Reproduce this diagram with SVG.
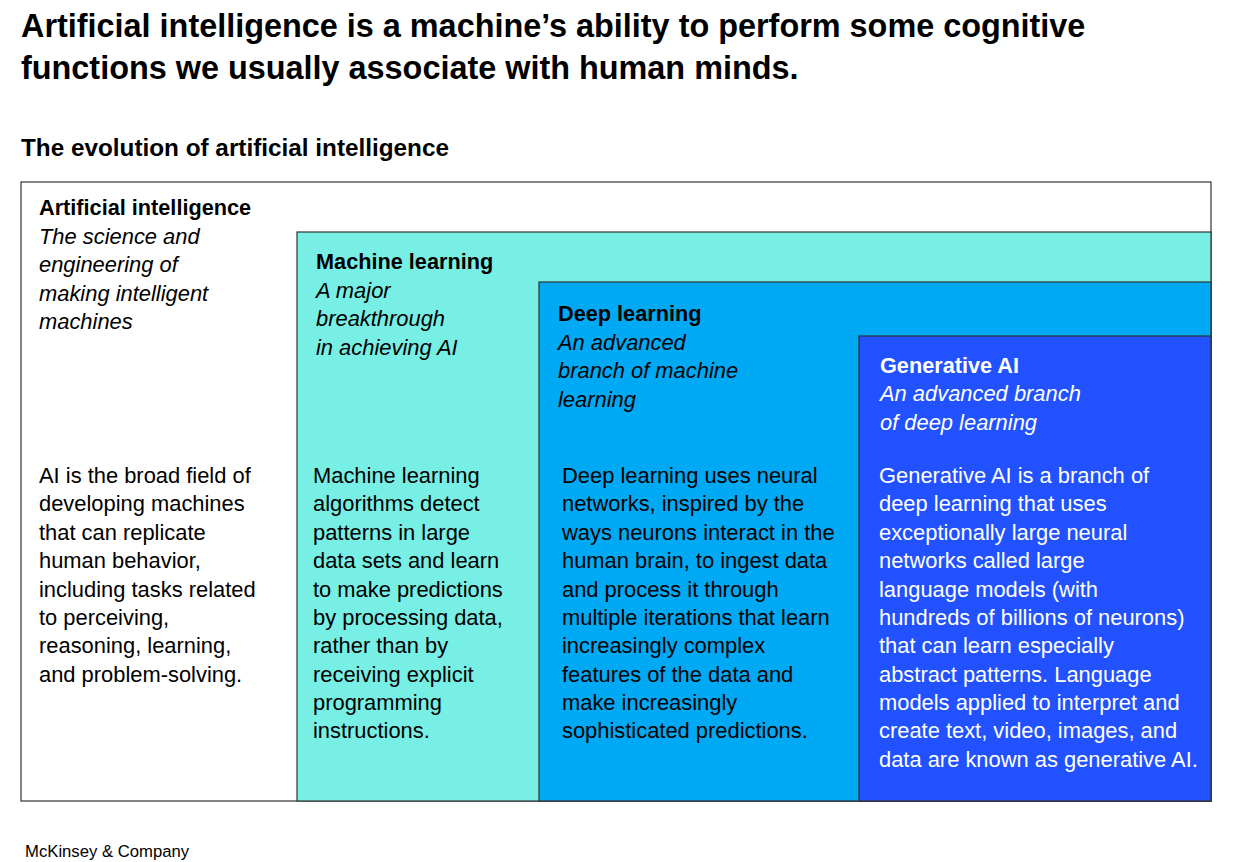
<svg xmlns="http://www.w3.org/2000/svg" width="1234" height="862" viewBox="0 0 1234 862">
<style>
text{font-family:"Liberation Sans",Arial,sans-serif;fill:#000}
.h1{font-size:32.4px;font-weight:bold}
.h2{font-size:24.3px;font-weight:bold}
.t{font-size:21.7px;font-weight:bold}
.i{font-size:21.9px;font-style:italic}
.b{font-size:21.9px}
.w{fill:#fff}
.box{stroke:#333;stroke-width:1.2}
.src{font-size:16.7px}
</style>
<rect width="1234" height="862" fill="#fff"/>
<text class="h1" x="21" y="37">Artificial intelligence is a machine’s ability to perform some cognitive</text>
<text class="h1" x="21" y="79">functions we usually associate with human minds.</text>
<text class="h2" x="21" y="156">The evolution of artificial intelligence</text>
<g id="ai">
<rect class="box" x="21" y="182" width="1190" height="619" fill="#fff"/>
<text class="t" x="39" y="215">Artificial intelligence</text>
<text class="i" x="39" y="244">The science and</text>
<text class="i" x="39" y="272">engineering of</text>
<text class="i" x="39" y="301">making intelligent</text>
<text class="i" x="39" y="329">machines</text>
<text class="b" x="39" y="483">AI is the broad field of</text>
<text class="b" x="39" y="511">developing machines</text>
<text class="b" x="39" y="540">that can replicate</text>
<text class="b" x="39" y="568">human behavior,</text>
<text class="b" x="39" y="597">including tasks related</text>
<text class="b" x="39" y="625">to perceiving,</text>
<text class="b" x="39" y="653">reasoning, learning,</text>
<text class="b" x="39" y="682">and problem-solving.</text>
</g>
<g id="ml">
<rect class="box" x="297" y="232" width="914" height="569" fill="#77EFE5"/>
<text class="t" x="316" y="269">Machine learning</text>
<text class="i" x="316" y="298">A major</text>
<text class="i" x="316" y="326">breakthrough</text>
<text class="i" x="316" y="355">in achieving AI</text>
<text class="b" x="313" y="483">Machine learning</text>
<text class="b" x="313" y="511">algorithms detect</text>
<text class="b" x="313" y="540">patterns in large</text>
<text class="b" x="313" y="568">data sets and learn</text>
<text class="b" x="313" y="597">to make predictions</text>
<text class="b" x="313" y="625">by processing data,</text>
<text class="b" x="313" y="653">rather than by</text>
<text class="b" x="313" y="682">receiving explicit</text>
<text class="b" x="313" y="710">programming</text>
<text class="b" x="313" y="738">instructions.</text>
</g>
<g id="dl">
<rect class="box" x="539" y="282" width="672" height="519" fill="#00A9F4"/>
<text class="t" x="558" y="321">Deep learning</text>
<text class="i" x="558" y="350">An advanced</text>
<text class="i" x="558" y="378">branch of machine</text>
<text class="i" x="558" y="407">learning</text>
<text class="b" x="562" y="483">Deep learning uses neural</text>
<text class="b" x="562" y="511">networks, inspired by the</text>
<text class="b" x="562" y="540">ways neurons interact in the</text>
<text class="b" x="562" y="568">human brain, to ingest data</text>
<text class="b" x="562" y="597">and process it through</text>
<text class="b" x="562" y="625">multiple iterations that learn</text>
<text class="b" x="562" y="653">increasingly complex</text>
<text class="b" x="562" y="682">features of the data and</text>
<text class="b" x="562" y="710">make increasingly</text>
<text class="b" x="562" y="738">sophisticated predictions.</text>
</g>
<g id="genai">
<rect class="box" x="859" y="336" width="352" height="465" fill="#2251FF"/>
<text class="t w" x="880" y="373">Generative AI</text>
<text class="i w" x="880" y="401">An advanced branch</text>
<text class="i w" x="880" y="430">of deep learning</text>
<text class="b w" x="879" y="483">Generative AI is a branch of</text>
<text class="b w" x="879" y="511">deep learning that uses</text>
<text class="b w" x="879" y="540">exceptionally large neural</text>
<text class="b w" x="879" y="568">networks called large</text>
<text class="b w" x="879" y="597">language models (with</text>
<text class="b w" x="879" y="625">hundreds of billions of neurons)</text>
<text class="b w" x="879" y="653">that can learn especially</text>
<text class="b w" x="879" y="682">abstract patterns. Language</text>
<text class="b w" x="879" y="710">models applied to interpret and</text>
<text class="b w" x="879" y="738">create text, video, images, and</text>
<text class="b w" x="879" y="767">data are known as generative AI.</text>
</g>
<text class="src" x="25" y="857">McKinsey &amp; Company</text>
</svg>
